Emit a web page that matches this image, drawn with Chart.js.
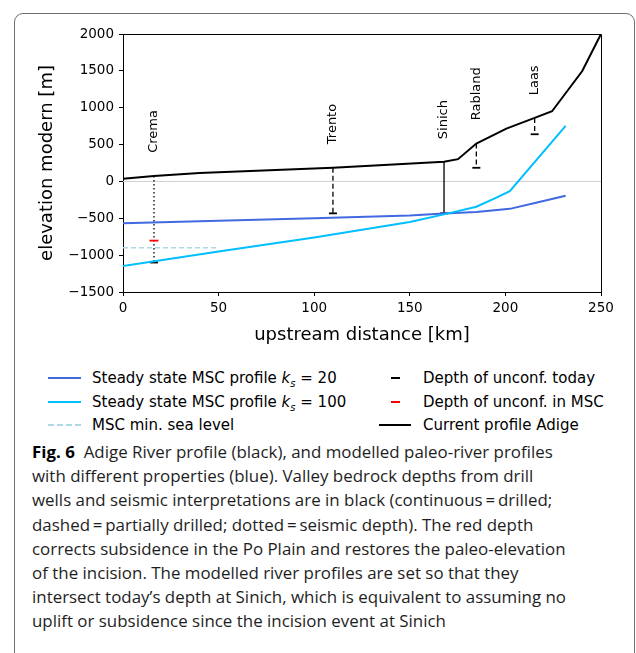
<!DOCTYPE html>
<html>
<head>
<meta charset="utf-8">
<script src="https://cdn.jsdelivr.net/npm/chart.js@4.4.0/dist/chart.umd.min.js"></script>
<style>
html, body { margin: 0; padding: 0; background: #fff; }
body { width: 636px; height: 653px; position: relative; overflow: hidden; font-family: "DejaVu Sans", sans-serif; }
#frame { position: absolute; left: 14px; top: 13px; width: 621px; height: 720px; border: 1.3px solid #6e6e6e; border-radius: 9px 9px 0 0; box-sizing: border-box; }
#plot { position: absolute; left: 0; top: 0; width: 636px; height: 360px; }
.leg { position: absolute; font-size: 15px; line-height: 18px; color: #000; white-space: nowrap; }
.sw { position: absolute; height: 0; }
#cap { position: absolute; left: 32px; top: 440px; font-family: "Open Sans", sans-serif; font-size: 16.8px; line-height: 24.2px; color: #1e1e1e; white-space: nowrap; transform-origin: 0 0; }
#cap b { font-weight: 700; color: #000; }
</style>
</head>
<body>
<div id="frame"></div>
<div id="plot"><canvas id="chart" width="636" height="360"></canvas></div>

<div class="sw" style="left:48px;top:377px;width:33px;border-top:2px solid #4169e1"></div>
<div class="leg" style="left:92px;top:369px">Steady state MSC profile <i>k</i><sub style="font-size:10px;font-style:italic">s</sub> = 20</div>
<div class="sw" style="left:48px;top:401px;width:33px;border-top:2px solid #00bfff"></div>
<div class="leg" style="left:92px;top:393px">Steady state MSC profile <i>k</i><sub style="font-size:10px;font-style:italic">s</sub> = 100</div>
<div class="sw" style="left:48px;top:424px;width:33px;border-top:2px dashed #add8e6"></div>
<div class="leg" style="left:92px;top:416px">MSC min. sea level</div>

<div class="sw" style="left:391px;top:377px;width:9px;border-top:2px solid #000"></div>
<div class="leg" style="left:423px;top:369px">Depth of unconf. today</div>
<div class="sw" style="left:391px;top:401px;width:9px;border-top:2px solid #ff0000"></div>
<div class="leg" style="left:423px;top:393px">Depth of unconf. in MSC</div>
<div class="sw" style="left:379px;top:424px;width:32px;border-top:2px solid #000"></div>
<div class="leg" style="left:423px;top:416px">Current profile Adige</div>

<div id="cap">
<div><b>Fig. 6</b>&nbsp; Adige River profile (black), and modelled paleo-river profiles</div>
<div id="capRef">with different properties (blue). Valley bedrock depths from drill</div>
<div>wells and seismic interpretations are in black (continuous&#8201;=&#8201;drilled;</div>
<div>dashed&#8201;=&#8201;partially drilled; dotted&#8201;=&#8201;seismic depth). The red depth</div>
<div>corrects subsidence in the Po Plain and restores the paleo-elevation</div>
<div>of the incision. The modelled river profiles are set so that they</div>
<div>intersect today’s depth at Sinich, which is equivalent to assuming no</div>
<div>uplift or subsidence since the incision event at Sinich</div>
</div>

<script>
// current Adige profile
const adigeKm = [0, 16.2, 40, 109.8, 167.9, 175.2, 184.8, 200.5, 215.3, 224.4, 240.2, 250];
const adigeElev = [36, 72, 113, 185, 266, 302, 514, 717, 862, 952, 1498, 2000];

// steady state MSC profiles
const ks20Km = [0, 50, 100, 150, 167.9, 184.8, 202.3, 216, 231.5];
const ks20Elev = [-568, -535, -500, -463, -435, -415, -372, -289, -195];
const ks100Km = [0, 50, 100, 150, 167.9, 184.8, 195.3, 202.3, 231.5];
const ks100Elev = [-1146, -950, -760, -550, -447, -343, -221, -131, 753];

// MSC min. sea level
const seaLevelKm = [0, 50];
const seaLevelElev = -900;

// wells / seismic depths
const wellNames = ['Crema', 'Trento', 'Sinich', 'Rabland', 'Laas'];
const wellKm = [16.2, 109.8, 167.9, 184.8, 215.3];
const wellTop = [72, 185, 266, 514, 862];
const wellBottom = [-1100, -433, -433, 185, 640];
const wellType = ['dotted', 'dashed', 'solid', 'dashed', 'dashed'];
const labelElev = [388, 505, 573, 830, 1168];

// depth of unconformity in MSC (red)
const mscKm = [16.2];
const mscDepth = [-803];

const dashFor = { dotted: [1.5, 2.5], dashed: [5, 3], solid: [] };

const zip = (xs, ys) => xs.map((x, i) => ({ x: x, y: ys[i] }));

const datasets = [
    {
        label: 'zero',
        data: [{ x: 0, y: 0 }, { x: 250, y: 0 }],
        borderColor: '#cfcfcf', borderWidth: 1, pointRadius: 0, order: 20
    },
    {
        label: 'Current profile Adige',
        data: zip(adigeKm, adigeElev),
        borderColor: '#000', borderWidth: 2, pointRadius: 0, order: 1
    },
    {
        label: 'ks20',
        data: zip(ks20Km, ks20Elev),
        borderColor: '#4169e1', borderWidth: 2, pointRadius: 0, order: 3
    },
    {
        label: 'ks100',
        data: zip(ks100Km, ks100Elev),
        borderColor: '#00bfff', borderWidth: 2, pointRadius: 0, order: 2
    },
    {
        label: 'MSC min. sea level',
        data: seaLevelKm.map(x => ({ x: x, y: seaLevelElev })),
        borderColor: '#add8e6', borderWidth: 1.5, borderDash: [5, 3], pointRadius: 0, order: 15
    }
];

wellNames.forEach((name, i) => {
    datasets.push({
        label: name,
        data: [{ x: wellKm[i], y: wellTop[i] }, { x: wellKm[i], y: wellBottom[i] }],
        borderColor: '#000',
        borderWidth: 1.3,
        borderDash: dashFor[wellType[i]],
        pointStyle: 'line',
        pointRadius: [0, 4],
        pointBorderColor: '#000',
        pointBorderWidth: 1.8,
        order: 5
    });
});

datasets.push({
    label: 'Depth of unconf. in MSC',
    data: zip(mscKm, mscDepth),
    showLine: false,
    pointStyle: 'line',
    pointRadius: 4.5,
    pointBorderColor: '#ff0000',
    pointBorderWidth: 1.8,
    order: 0
});

const wellLabels = {
    id: 'wellLabels',
    afterDatasetsDraw(chart) {
        const { ctx, scales: { x, y } } = chart;
        ctx.save();
        ctx.font = '13px "DejaVu Sans"';
        ctx.fillStyle = '#000';
        ctx.textAlign = 'left';
        ctx.textBaseline = 'middle';
        wellNames.forEach((name, i) => {
            ctx.save();
            ctx.translate(x.getPixelForValue(wellKm[i]), y.getPixelForValue(labelElev[i]));
            ctx.rotate(-Math.PI / 2);
            ctx.fillText(name, 0, 0);
            ctx.restore();
        });
        ctx.restore();
    }
};

const boxFrame = {
    id: 'boxFrame',
    afterDraw(chart) {
        const { ctx, chartArea: a } = chart;
        ctx.save();
        ctx.strokeStyle = '#000';
        ctx.lineWidth = 1;
        ctx.beginPath();
        ctx.moveTo(a.left, a.top + 0.5);
        ctx.lineTo(a.right + 0.5, a.top + 0.5);
        ctx.lineTo(a.right + 0.5, a.bottom);
        ctx.stroke();
        ctx.restore();
    }
};

const tickFont = { family: '"DejaVu Sans"', size: 13.5 };
const titleFont = { family: '"DejaVu Sans"', size: 18 };

new Chart(document.getElementById('chart'), {
    type: 'line',
    data: { datasets: datasets },
    options: {
        responsive: false,
        animation: false,
        layout: { padding: { left: 0, right: 35, top: 34, bottom: 0 } },
        plugins: { legend: { display: false }, tooltip: { enabled: false } },
        elements: { line: { tension: 0 } },
        scales: {
            x: {
                type: 'linear', min: 0, max: 250,
                ticks: { stepSize: 50, color: '#000', font: tickFont, padding: 4, maxRotation: 0 },
                grid: { drawOnChartArea: false, tickLength: 4, color: '#000' },
                border: { color: '#000', width: 1 },
                title: { display: true, text: 'upstream distance [km]', color: '#000', font: titleFont, padding: { top: 0, bottom: 14 } },
                afterFit: s => { s.height = 68; }
            },
            y: {
                type: 'linear', min: -1500, max: 2000,
                ticks: { stepSize: 500, color: '#000', font: tickFont, padding: 5,
                         callback: v => String(v).replace('-', '\u2212') },
                grid: { drawOnChartArea: false, tickLength: 4, color: '#000' },
                border: { color: '#000', width: 1 },
                title: { display: true, text: 'elevation modern [m]', color: '#000', font: titleFont, padding: { top: 37, bottom: 0 } },
                afterFit: s => { s.width = 123; }
            }
        }
    },
    plugins: [wellLabels, boxFrame]
});

// squeeze caption so its lines match the original measure
const cap = document.getElementById('cap');
const ref = document.getElementById('capRef');
const w = ref.getBoundingClientRect().width;
cap.style.transform = 'scaleX(' + (534 / w) + ')';
</script>
</body>
</html>
